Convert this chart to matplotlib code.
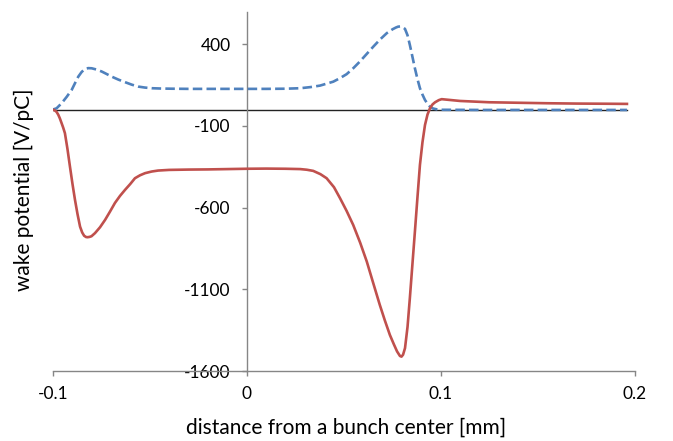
import matplotlib
matplotlib.use("Agg")
import matplotlib.pyplot as plt
import numpy as np

plt.rcParams['font.family'] = ['Lato', 'DejaVu Sans']
plt.rcParams['axes.unicode_minus'] = False

# longitudinal wake (solid red)
x_long = [-0.100, -0.0990, -0.0980, -0.0971, -0.0963, -0.0955, -0.0946, -0.0937, -0.0924,
          -0.0911, -0.0898, -0.0885, -0.0872, -0.0859, -0.0848, -0.0838, -0.0828, -0.0820,
          -0.0810, -0.0800, -0.0782, -0.0756, -0.0730, -0.0705, -0.0679, -0.0653, -0.0627,
          -0.0600, -0.0576, -0.0550, -0.0524, -0.0490, -0.0457, -0.0400, -0.0300, -0.0200,
          -0.0100, 0.0000, 0.0100, 0.0200, 0.0276, 0.0310, 0.0343, 0.0380, 0.0412, 0.0450,
          0.0481, 0.0515, 0.0549, 0.0585, 0.0619, 0.0653, 0.0686, 0.0712, 0.0738, 0.0758,
          0.0775, 0.0790, 0.0798, 0.0806, 0.0816, 0.0829, 0.0841, 0.0854, 0.0867, 0.0880,
          0.0893, 0.0906, 0.0919, 0.0932, 0.0945, 0.0958, 0.0971, 0.0990, 0.1005, 0.1100,
          0.1250, 0.1400, 0.1550, 0.1700, 0.1850, 0.1960]
w_long = [0, -4, -14, -32, -54, -80, -110, -144, -240,
          -349, -455, -553, -640, -716, -752, -772, -780, -781,
          -779, -775, -756, -720, -675, -625, -571, -528, -491,
          -455, -420, -402, -389, -379, -373, -369, -367, -366,
          -364, -362, -361, -362, -364, -368, -375, -395, -420, -475,
          -542, -620, -706, -815, -930, -1065, -1195, -1290, -1379, -1435,
          -1480, -1508, -1512, -1500, -1460, -1330, -1154, -950, -747, -540,
          -338, -200, -94, -30, 9, 32, 45, 58, 64, 53,
          45, 42, 39, 37, 36, 35]

# transverse wake (dashed blue)
x_trans = [-0.100, -0.0980, -0.0954, -0.0928, -0.0902, -0.0885, -0.0868, -0.0851, -0.0834,
           -0.0817, -0.0799, -0.0773, -0.0747, -0.0722, -0.0696, -0.0662, -0.0627, -0.0593,
           -0.0559, -0.0525, -0.0490, -0.0440, -0.0387, -0.0300, -0.0200, -0.0100, 0.0000,
           0.0100, 0.0200, 0.0276, 0.0330, 0.0378, 0.0446, 0.0480, 0.0515, 0.0549, 0.0583,
           0.0618, 0.0653, 0.0688, 0.0722, 0.0752, 0.0770, 0.0781, 0.0792, 0.0803, 0.0816,
           0.0829, 0.0841, 0.0854, 0.0867, 0.0880, 0.0893, 0.0906, 0.0919, 0.0932, 0.0945,
           0.0960, 0.0979, 0.1000, 0.1200, 0.1500, 0.1800, 0.1960]
w_trans = [0, 8, 39, 78, 121, 162, 202, 230, 249,
           254, 253, 245, 233, 218, 202, 184, 168, 153,
           141, 135, 131, 129, 128, 127, 127, 127, 127,
           127, 128, 131, 138, 147, 171, 192, 217, 253, 294,
           340, 386, 430, 468, 492, 503, 508, 509, 505, 494,
           455, 396, 325, 253, 188, 131, 92, 59, 36, 18,
           7, 2, -1, -2, -2, -2, -2]

x_ticks = [-0.1, 0, 0.1, 0.2]
y_ticks = [400, -100, -600, -1100, -1600]

fig = plt.figure(figsize=(6.73, 4.41), dpi=100)
ax = fig.add_axes([0.0783, 0.1587, 0.8648, 0.815])

axis_gray = "#868686"

ax.plot([x_long[0], x_long[-1]], [0, 0], color="#222222", lw=1.0, zorder=2)
ax.plot(x_trans, w_trans, color="#4F81BD", lw=1.9, dashes=(3.6, 1.6), zorder=3)
ax.plot(x_long, w_long, color="#C0504D", lw=1.9, zorder=4)

ax.set_xlim(-0.1, 0.2)
ax.set_ylim(-1600, 600)
ax.set_xticks(x_ticks)
ax.set_xticklabels([str(v) for v in x_ticks])
ax.set_yticks(y_ticks)
ax.set_yticklabels([str(v) for v in y_ticks])

ax.spines['left'].set_position(('data', 0))
ax.spines['top'].set_visible(False)
ax.spines['right'].set_visible(False)
for s in ('left', 'bottom'):
    ax.spines[s].set_color(axis_gray)
    ax.spines[s].set_linewidth(1.0)

ax.tick_params(axis='both', direction='out', length=3.6, width=1.0, color=axis_gray,
               labelsize=12.5, labelcolor="#000000")
ax.tick_params(axis='x', pad=7)
ax.tick_params(axis='y', pad=8)

fig.text(0.5145, 1 - 428 / 441, "distance from a bunch center [mm]", fontsize=15,
         ha='center', va='center')
fig.text(24 / 673, 1 - 190 / 441, "wake potential [V/pC]", rotation=90, fontsize=15,
         ha='center', va='center')

fig.savefig("out.png", dpi=100)
